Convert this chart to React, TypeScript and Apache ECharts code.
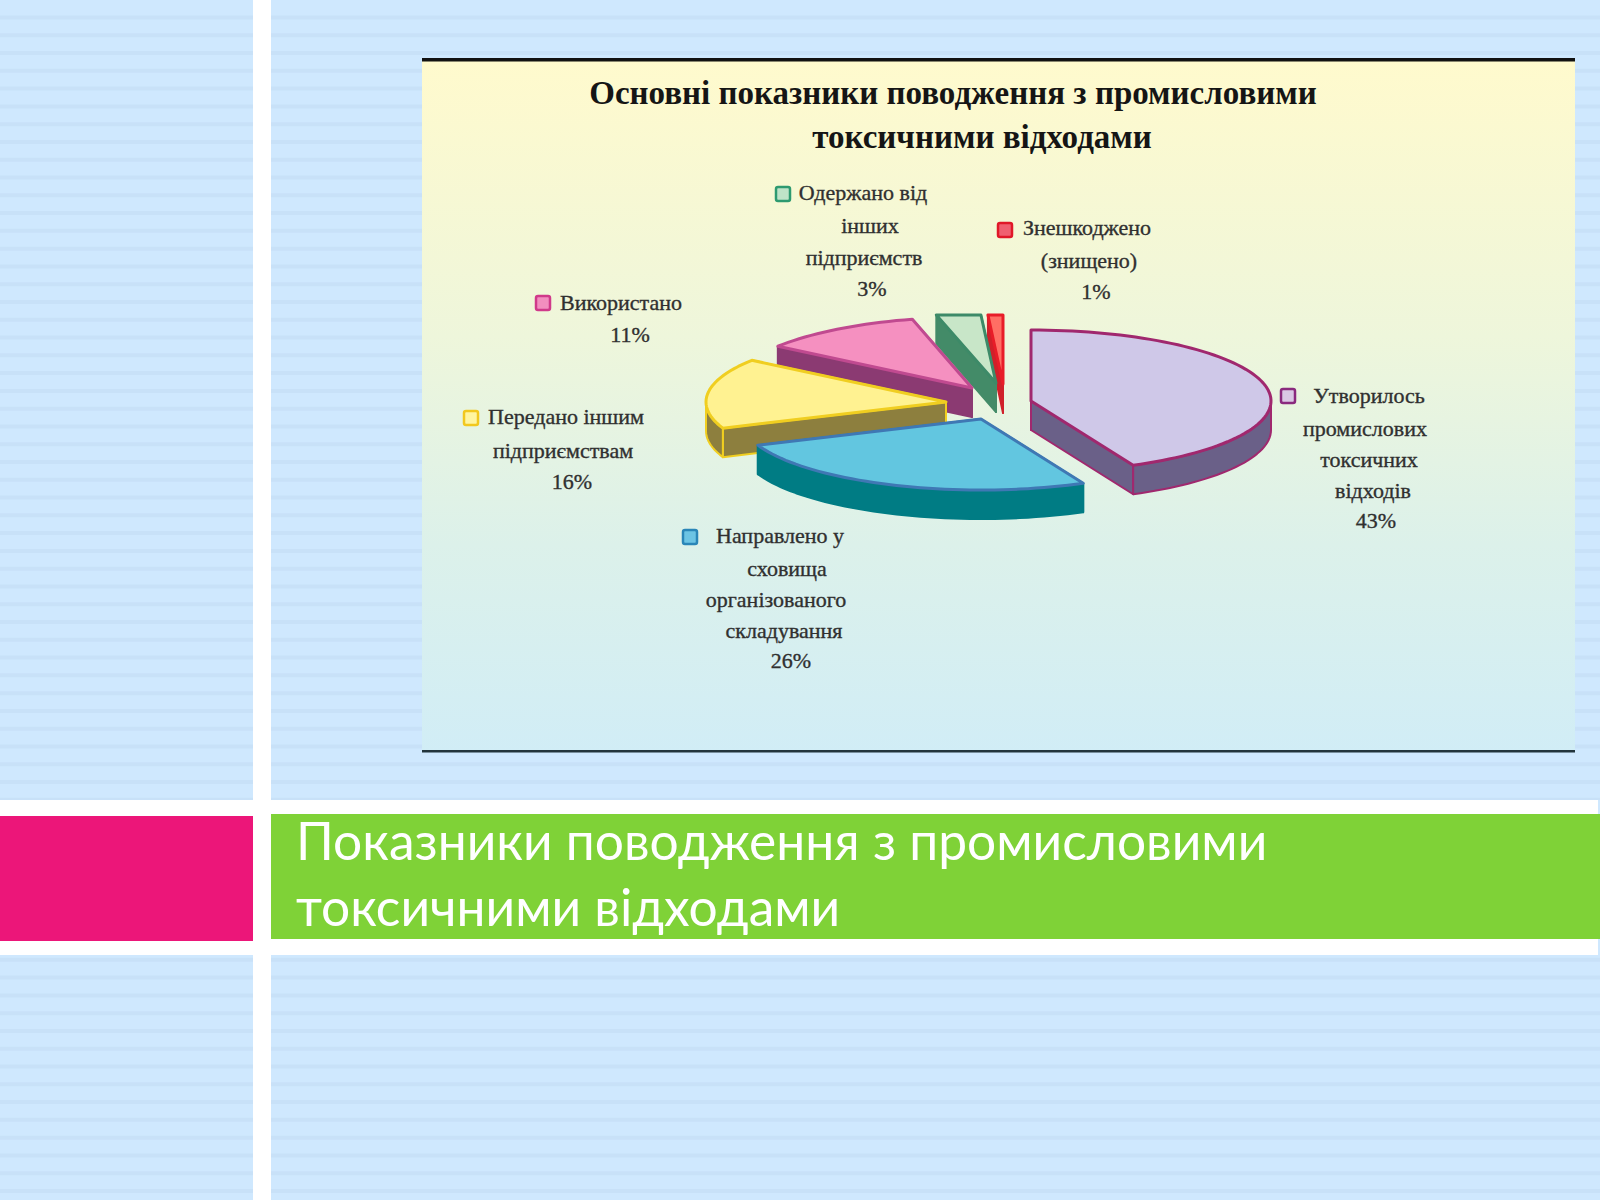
import React, { useEffect, useRef } from "react";
import * as echarts from "echarts";

const categories = ["Утворилось промислових токсичних відходів", "Направлено у сховища організованого складування", "Передано іншим підприємствам", "Використано", "Одержано від інших підприємств", "Знешкоджено (знищено)"];
const shares = [43, 26, 16, 11, 3, 1];
const labelLines = [
  ["Утворилось", "промислових", "токсичних", "відходів"],
  ["Направлено у", "сховища", "організованого", "складування"],
  ["Передано іншим", "підприємствам"],
  ["Використано"],
  ["Одержано від", "інших", "підприємств"],
  ["Знешкоджено", "(знищено)"],
];
const chartTitleLines = ["Основні показники поводження з промисловими", "токсичними відходами"];
const slideTitleLines = ["Показники поводження з промисловими", "токсичними відходами"];

// layout
const explode = [[31, 11], [-19, 29], [-54, 12], [-28, -2], [-4, -7], [3, -6]];
const CX = 1000, CY = 390, RX = 240, RY = 71, DEPTH = 29, CLIP_Y = 315;
const topFill = ["#CFC8E8", "#62C6E0", "#FFF291", "#F590C0", "#C8E6C8", "#FF6E64"];
const topStroke = ["#A0286E", "#3F78B4", "#F0CE20", "#C04A90", "#3D8A68", "#E81C28"];
const wallFill = ["#6A6088", "#007C84", "#8D7F3E", "#8B3A72", "#438B68", "#D0202A"];
const wallStroke = ["#A0286E", "#007C84", "#F0CE20", "#8B3A72", "#438B68", "#D0202A"];
const markerFill = ["#D9C8E4", "#6CC4E4", "#FFF5A0", "#F28FBF", "#BFE3C8", "#F06070"];
const markerStroke = ["#8A2A7E", "#2A86B8", "#F2C81E", "#D03A8A", "#2E9A70", "#E01828"];
const markerPos = [[1288, 396], [690, 537], [471, 418], [543, 303], [783, 194], [1005, 230]];
const linePos = [
  [[1369, 395], [1365, 428], [1369, 459], [1373, 490], [1376, 520]],
  [[780, 535], [787, 568], [776, 599], [784, 630], [791, 660]],
  [[566, 416], [563, 450], [572, 481]],
  [[621, 302], [630, 334]],
  [[863, 192], [870, 225], [864, 257], [872, 288]],
  [[1087, 227], [1089, 260], [1096, 291]],
];

const total = shares.reduce((a, b) => a + b, 0);
const starts: number[] = [];
shares.reduce((acc, v, i) => { starts[i] = acc; return acc + v; }, 0);
const sliceDeg = (v: number) => (v / total) * 360;
const DRAW_ORDER = [5, 4, 3, 2, 1, 0];

function arcPoint(cx: number, cy: number, deg: number) {
  const t = (deg * Math.PI) / 180;
  return [cx + RX * Math.sin(t), cy - RY * Math.cos(t)];
}
function arcPoints(cx: number, cy: number, a: number, b: number) {
  const pts: number[][] = [];
  const n = Math.max(2, Math.ceil((b - a) / 2));
  for (let k = 0; k <= n; k++) pts.push(arcPoint(cx, cy, a + ((b - a) * k) / n));
  return pts;
}
const clip = (pts: number[][]) => pts.map(([x, y]) => [x, Math.max(y, CLIP_Y)]);

function renderSlice(_params: any, api: any) {
  const i = api.value(0);
  const a = (api.value(1) / total) * 360;
  const b = a + sliceDeg(api.value(2));
  const cx = CX + explode[i][0], cy = CY + explode[i][1];
  const children: any[] = [];
  const wallStyle = { fill: wallFill[i], stroke: wallStroke[i], lineWidth: 2, lineJoin: "round" };
  const cut = (deg: number) => {
    const p = arcPoint(cx, cy, deg);
    return [[cx, cy], p, [p[0], p[1] + DEPTH], [cx, cy + DEPTH]];
  };
  const cutAngles = [a, b].sort((p, q) => arcPoint(cx, cy, p)[1] - arcPoint(cx, cy, q)[1]);
  cutAngles.forEach((deg) => children.push({ type: "polygon", shape: { points: clip(cut(deg)) }, style: wallStyle }));
  const wa = Math.max(a, 90), wb = Math.min(b, 270);
  if (wb > wa) {
    const outer = arcPoints(cx, cy, wa, wb);
    const lower = outer.map(([x, y]) => [x, y + DEPTH]).reverse();
    children.push({ type: "polygon", shape: { points: [...outer, ...lower] }, style: wallStyle });
  }
  const top = [[cx, cy], ...arcPoints(cx, cy, a, b)];
  children.push({
    type: "polygon",
    shape: { points: clip(top) },
    style: { fill: topFill[i], stroke: topStroke[i], lineWidth: 3, lineJoin: "round" },
  });
  return { type: "group", children };
}

function stripes(x: number, w: number, y0: number, y1: number) {
  const out: any[] = [];
  for (let k = 0; 15.5 + 17.78 * k < y1; k++) {
    const y = 15.5 + 17.78 * k;
    if (y + 4 <= y0) continue;
    const t = Math.max(y, y0);
    out.push({ type: "rect", shape: { x, y: t, width: w, height: Math.min(y + 4, y1) - t }, style: { fill: "#C8E1F8" }, silent: true });
  }
  return out;
}

const rect = (x: number, y: number, width: number, height: number, fill: any, z = 0) => ({
  type: "rect", z, shape: { x, y, width, height }, style: { fill }, silent: true,
});

function labelGraphics() {
  const out: any[] = [];
  shares.forEach((v, i) => {
    const [mx, my] = markerPos[i];
    out.push({
      type: "rect", z: 20, shape: { x: mx - 7, y: my - 7, width: 14, height: 14, r: 2 },
      style: { fill: markerFill[i], stroke: markerStroke[i], lineWidth: 2.5 }, silent: true,
    });
    [...labelLines[i], `${v}%`].forEach((line, k) => {
      out.push({
        type: "text", z: 20, x: linePos[i][k][0], y: linePos[i][k][1],
        style: { text: line, fill: "#303030", stroke: "#303030", lineWidth: 0.35, font: "22px 'Liberation Serif'", textAlign: "center", textVerticalAlign: "middle" },
        silent: true,
      });
    });
  });
  return out;
}

export default function App() {
  const ref = useRef<HTMLDivElement>(null);
  useEffect(() => {
    const chart = echarts.init(ref.current!, undefined, { renderer: "svg" });
    chart.setOption({
      animation: false,
      backgroundColor: "#FFFFFF",
      title: chartTitleLines.map((text, k) => ({
        text, left: [948, 977][k], top: 66 + k * 44, textAlign: "center", z: 20,
        textStyle: { fontFamily: "Liberation Serif", fontWeight: "bold", fontSize: 33, lineHeight: 44, color: "#151515" },
      })),
      graphic: [
        rect(0, 0, 253, 800, "#CFE8FE"),
        rect(271, 0, 1329, 800, "#CFE8FE"),
        rect(0, 955, 253, 245, "#CFE8FE"),
        rect(271, 955, 1329, 245, "#CFE8FE"),
        rect(1598, 800, 2, 155, "#CFE8FE"),
        ...stripes(0, 253, 0, 800),
        ...stripes(271, 1329, 0, 800),
        ...stripes(0, 253, 955, 1200),
        ...stripes(271, 1329, 955, 1200),
        rect(0, 816, 253, 125, "#EC1679", 1),
        rect(271, 814, 1329, 125, "#7FD237", 1),
        rect(422, 60, 1153, 692, new echarts.graphic.LinearGradient(0, 0, 0, 1, [
          { offset: 0, color: "#FFFACD" },
          { offset: 0.4, color: "#EEF6DB" },
          { offset: 0.7, color: "#DCF1EA" },
          { offset: 1, color: "#D1EDF6" },
        ]), 1),
        rect(422, 58, 1153, 3.5, "#111111", 2),
        rect(422, 750, 1153, 2.5, "#22343C", 2),
        ...labelGraphics(),
        ...slideTitleLines.map((line, k) => ({
          type: "text", z: 20, x: 296, y: 840 + k * 66,
          style: { text: line, fill: "#FFFFFF", font: "400 51.5px Lato, 'Open Sans'", textAlign: "left", textVerticalAlign: "middle" },
          silent: true,
        })),
      ],
      series: [
        {
          type: "custom",
          coordinateSystem: "none",
          z: 10,
          silent: true,
          renderItem: renderSlice,
          data: DRAW_ORDER.map((i) => ({ name: categories[i], value: [i, starts[i], shares[i]] })),
        },
      ],
    });
    return () => chart.dispose();
  }, []);
  return <div ref={ref} style={{ position: "absolute", left: 0, top: 0, width: 1600, height: 1200 }} />;
}
